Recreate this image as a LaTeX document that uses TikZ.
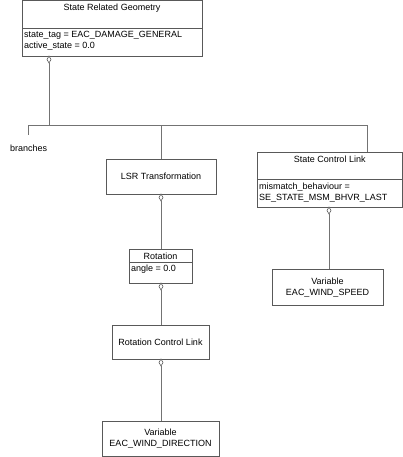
\documentclass[tikz,border=0pt]{standalone}
\usepackage{fontspec}
\setmainfont{Liberation Sans}
\usetikzlibrary{shapes.geometric}

\definecolor{boxline}{gray}{0.35}
\definecolor{linkline}{gray}{0.45}

\tikzset{
  box/.style={draw=boxline, line width=0.8pt, fill=white, inner sep=0pt, outer sep=0pt},
  lbl/.style={font=\fontsize{9}{11.5}\selectfont, inner sep=0pt, align=center},
  attr/.style={lbl, anchor=west, align=left},
  agg/.style={draw=boxline, line width=0.6pt, fill=white, diamond, minimum width=4pt, minimum height=7pt, inner sep=0pt, outer sep=0pt},
  link/.style={draw=linkline, line width=0.8pt}
}

\begin{document}
\begin{tikzpicture}[x=1pt,y=-1pt]

  \useasboundingbox (0,0) rectangle (403,457);

  % classes
  \node [box, minimum width=180pt, minimum height=56pt] (srg) at (112,28) {};
  \draw [boxline, line width=0.8pt] (srg.west |- 0,28) -- (srg.east |- 0,28);
  \node [lbl] (srgt) at (112,8) {State Related Geometry};
  \node [attr] (srga) at (24,35) {state\_tag = EAC\_DAMAGE\_GENERAL};
  \node [attr] (srgb) at (24,46.5) {active\_state = 0.0};

  \node [box, minimum width=110pt, minimum height=35pt] (lsr) at (161,176.5) {};
  \node [lbl] (lsrt) at (lsr) {LSR Transformation};

  \node [box, minimum width=63pt, minimum height=34pt] (rot) at (160.5,266) {};
  \draw [boxline, line width=0.8pt] (rot.west |- 0,262.5) -- (rot.east |- 0,262.5);
  \node [lbl] (rott) at (160.5,256) {Rotation};
  \node [attr] (rota) at (131,269.5) {angle = 0.0};

  \node [box, minimum width=97pt, minimum height=34pt] (rcl) at (160.5,342) {};
  \node [lbl] (rclt) at (rcl) {Rotation Control Link};

  \node [box, minimum width=117pt, minimum height=35.5pt] (vdir) at (160.5,438.75) {};
  \node [lbl] (vdirt) at (vdir) {Variable\\EAC\_WIND\_DIRECTION};

  \node [box, minimum width=145.5pt, minimum height=55pt] (scl) at (329.75,179.5) {};
  \draw [boxline, line width=0.8pt] (scl.west |- 0,179) -- (scl.east |- 0,179);
  \node [lbl] (sclt) at (329.75,159.5) {State Control Link};
  \node [attr, align=left] (scla) at (259,192.5) {mismatch\_behaviour =\\SE\_STATE\_MSM\_BHVR\_LAST};

  \node [box, minimum width=111pt, minimum height=36.5pt] (vspd) at (327.5,287.5) {};
  \node [lbl] (vspdt) at (vspd) {Variable\\EAC\_WIND\_SPEED};

  % aggregation diamonds
  \node [agg, anchor=north] (srgd) at (49,56) {};
  \node [agg, anchor=north] (lsrd) at (161,194) {};
  \node [agg, anchor=north] (rotd) at (161,283) {};
  \node [agg, anchor=north] (rcld) at (161,359) {};
  \node [agg, anchor=north] (scld) at (329,207) {};

  % branches
  \coordinate (fork) at (49,125);
  \coordinate (busl) at (28,125);
  \coordinate (busr) at (367,125);
  \coordinate (stub) at (28,135);
  \node [lbl, anchor=west] (brl) at (10,148) {branches};

  \draw [link] (srgd.south) -- (fork);
  \draw [link] (stub) -- (busl) -- (busr) -- (busr |- scl.north);
  \draw [link] (lsr.north -| 161,0) -- (161,125);
  \draw [link] (lsrd.south) -- (lsrd.south |- rot.north);
  \draw [link] (rotd.south) -- (rotd.south |- rcl.north);
  \draw [link] (rcld.south) -- (rcld.south |- vdir.north);
  \draw [link] (scld.south) -- (scld.south |- vspd.north);

\end{tikzpicture}
\end{document}
